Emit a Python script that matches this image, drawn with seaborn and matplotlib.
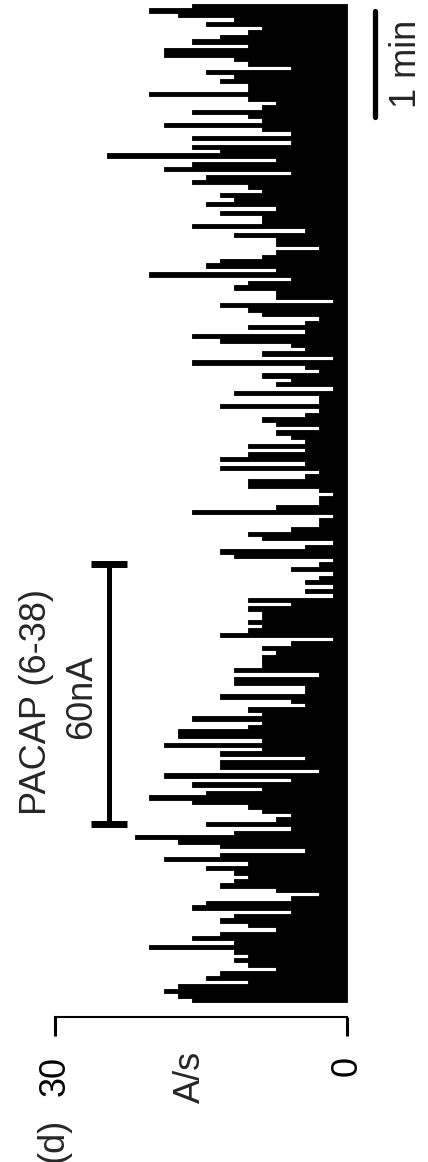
import numpy as np
import pandas as pd
import matplotlib
matplotlib.use("Agg")
import matplotlib.pyplot as plt
import seaborn as sns

# Event counts per 2.5 s bin, in time order
BIN_S = 2.5
RATE_UNIT = 1.45  # A/s per counted event in a bin
counts_a = [11, 12, 13, 12, 7, 10, 9, 5, 7, 8, 7, 8, 14, 8, 11, 9, 5, 7, 9, 8,
            4, 11, 10, 4, 2, 5, 9, 8, 7, 8, 10, 7, 13, 9, 3, 9, 12, 15, 8, 4,
            10, 5, 4, 6, 7, 11]
counts_b = [14, 10, 6, 11, 4, 13, 2, 9, 9, 3, 9, 6, 13, 6, 12, 12, 7, 6, 11, 6,
            7, 3, 4, 9, 3, 3, 8, 8, 2, 8, 6, 6, 6, 5, 6, 4, 1, 9, 7, 6,
            7, 6, 6, 7, 4]
counts_c = [7, 1, 3, 1, 3, 2, 1, 4, 2, 1, 8, 9, 3, 1, 6, 7, 4, 2, 2, 1,
            11, 5, 2, 2, 1, 2, 7, 7, 3, 2, 9, 3, 9, 7, 3, 7, 3, 4, 5, 2,
            5, 6]
counts_d = [3, 2, 9, 2, 2, 8, 1, 5, 4, 6, 2, 3, 11, 1, 6, 3, 4, 9, 11, 3,
            7, 3, 2, 6, 7, 9, 1, 5, 5, 8, 7, 4, 14, 5, 10, 9, 6, 5, 2, 5,
            5, 8, 3, 11, 6, 6]
counts_e = [9, 5, 10, 8, 9, 6, 7, 11, 10, 4, 13, 11, 5, 17, 9, 11, 4, 11, 4, 6,
            13, 6, 7, 11, 6, 5, 7, 14, 7, 7, 9, 8, 10, 4, 7, 8, 13, 13, 7, 11,
            9, 7, 6, 10, 8, 12, 14, 11]

axis_ticks = [0, 30]
axis_labels = ["0", "30"]
drug_label = "PACAP (6-38)"
dose_label = "60nA"
drug_on_s = 101.0
drug_off_s = 249.0
scale_len_s = 60.0

counts = np.array(counts_a + counts_b + counts_c + counts_d + counts_e)
rate = counts * RATE_UNIT
n_bins = len(counts)
T = n_bins * BIN_S
df = pd.DataFrame({"time": np.arange(n_bins) * BIN_S + BIN_S / 2,
                   "rate": rate})

sns.set_theme(style="ticks")
plt.rcParams["font.family"] = ["Liberation Sans", "DejaVu Sans"]

W, H = 428, 1162
fig = plt.figure(figsize=(W / 100, H / 100), dpi=100)
ax = fig.add_axes([55 / W, 145 / H, 292 / W, 1013 / H])

sns.histplot(data=df, y="time", weights="rate", binwidth=BIN_S,
             binrange=(0, T), element="step", fill=True, color="black",
             alpha=1, linewidth=0.6, edgecolor="black", ax=ax)

ax.set_xlim(30, 0)
ax.set_ylim(-15 / 998 * T, T)
ax.set_xlabel("")
ax.set_ylabel("")
ax.set_yticks([])
ax.set_xticks(axis_ticks)
ax.set_xticklabels(axis_labels, rotation=90, fontsize=26, va="top", ha="center")
for s in ("top", "left", "right"):
    ax.spines[s].set_visible(False)
ax.spines["bottom"].set_linewidth(1.5)
ax.spines["bottom"].set_color("black")
ax.tick_params(axis="x", length=14, width=2.2, pad=14, colors="black",
               direction="out")
ax.set_facecolor("white")

# time scale bar
sx = -2.9
ax.plot([sx, sx], [T - 4 - scale_len_s, T - 4], color="black", lw=3.8,
        solid_capstyle="round", clip_on=False)
ax.text(-6.1, T - 4 - scale_len_s / 2, "1 min", rotation=90, fontsize=26,
        ha="center", va="center", clip_on=False)

# drug application bar
ax.errorbar([24.45], [(drug_on_s + drug_off_s) / 2],
            yerr=[[(drug_off_s - drug_on_s) / 2]], fmt="none", ecolor="black",
            elinewidth=3.6, capsize=13, capthick=5, clip_on=False)

fig.text(37 / W, 1 - 702 / H, drug_label, rotation=90, fontsize=26,
         ha="center", va="center")
fig.text(82 / W, 1 - 697 / H, dose_label, rotation=90, fontsize=26,
         ha="center", va="center")
fig.text(190 / W, 1 - 1077 / H, "A/s", rotation=90, fontsize=26,
         ha="center", va="center")
fig.text(53 / W, 1 - 1140 / H, "(d)", rotation=90, fontsize=26,
         ha="center", va="center")

fig.savefig("out.png", dpi=100, facecolor="white")
